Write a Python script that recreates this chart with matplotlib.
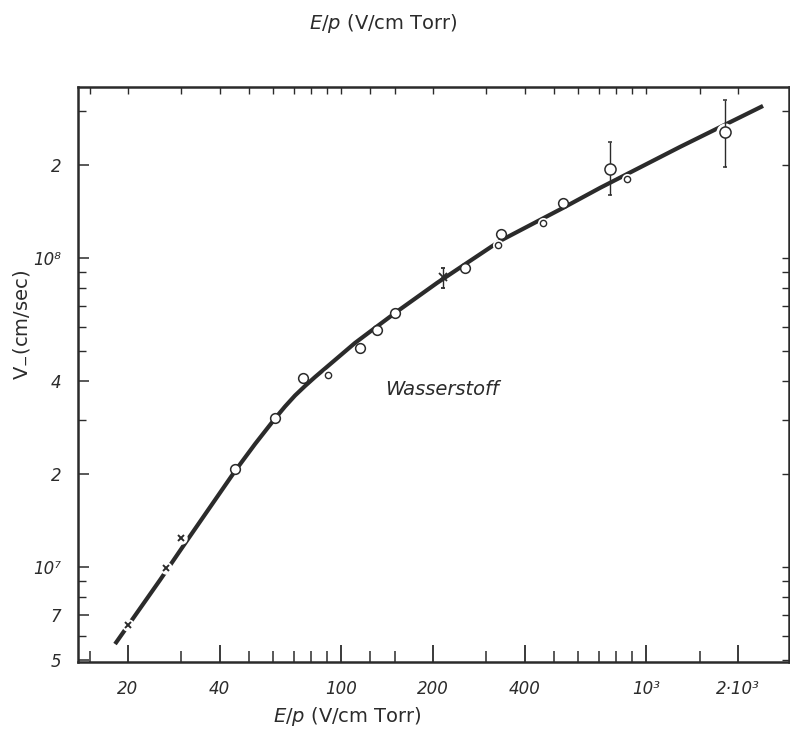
import numpy as np
import matplotlib
matplotlib.use("Agg")
from matplotlib import pyplot as plt
from matplotlib.ticker import FixedLocator, NullFormatter, LogLocator

# drift velocity of negative ions in hydrogen vs. reduced field E/p
curve_ep = [18.17, 25.52, 31.53, 44.97, 52.29, 60.81, 65.57, 70.72, 76.27, 82.27,
            88.71, 111.2, 131.3, 152.8, 206.6, 332.4, 534.9, 707.2, 1293.6, 2420.6]
curve_v = [5.647e6, 9.10e6, 1.235e7, 2.050e7, 2.506e7, 3.031e7, 3.314e7, 3.597e7,
           3.861e7, 4.129e7, 4.399e7, 5.320e7, 6.017e7, 6.727e7, 8.321e7, 1.138e8,
           1.455e8, 1.689e8, 2.292e8, 3.111e8]

# measured points
circ_ep = [45.0, 60.8, 75.3, 115.5, 131.3, 150.5, 255.3, 335.0, 535.0]
circ_v = [2.076e7, 3.035e7, 4.09e7, 5.11e7, 5.86e7, 6.64e7, 9.28e7, 1.196e8, 1.507e8]

small_ep = [90.9, 326.7, 461.0, 865.0]
small_v = [4.19e7, 1.104e8, 1.298e8, 1.806e8]

cross_ep = [20.0, 26.7, 29.9]
cross_v = [6.51e6, 9.95e6, 1.247e7]

# points with error bars
err_ep = [762.6, 1817.0]
err_v = [1.95e8, 2.57e8]
err_lo = [1.60e8, 1.98e8]
err_hi = [2.38e8, 3.25e8]

errx_ep = [216.7]
errx_v = [8.72e7]
errx_lo = [8.01e7]
errx_hi = [9.30e7]

xticks = [20, 40, 100, 200, 400, 1000, 2000]
xticklabels = ["20", "40", "100", "200", "400", "10³", "2·10³"]
xminor = [15, 30, 50, 60, 70, 80, 90, 125, 150, 300, 500, 600, 700, 800, 900, 1500]
yticks = [5e6, 7e6, 1e7, 2e7, 4e7, 1e8, 2e8]
yticklabels = ["5", "7", "10⁷", "2", "4", "10⁸", "2"]

ink = "#2b2b2b"
plt.rcParams["font.family"] = ["DejaVu Sans"]

fig = plt.figure(figsize=(7.9, 7.29), dpi=100)
ax = fig.add_axes([0.0984, 0.0923, 0.9004, 0.7888])
ax.set_xscale("log")
ax.set_yscale("log")
ax.set_xlim(13.71, 2946)
ax.set_ylim(4.95e6, 3.59e8)

ax.plot(curve_ep, curve_v, color=ink, lw=3.0, solid_capstyle="butt",
        solid_joinstyle="round", zorder=2)

# clear the line around the markers, like the hand-drawn original
ax.plot(cross_ep, cross_v, 'o', ms=9, mfc="white", mec="none", zorder=3)
ax.plot(small_ep, small_v, 'o', ms=8, mfc="white", mec="none", zorder=3)
ax.plot(err_ep, err_v, 'o', ms=13, mfc="white", mec="none", zorder=3)

ax.plot(cross_ep, cross_v, 'x', ms=5, mew=1.4, color=ink, zorder=4)
ax.plot(circ_ep, circ_v, 'o', ms=7, mfc="white", mec=ink, mew=1.1, zorder=4)
ax.plot(small_ep, small_v, 'o', ms=4.5, mfc="white", mec=ink, mew=1.0, zorder=4)

yerr = [np.array(err_v) - np.array(err_lo), np.array(err_hi) - np.array(err_v)]
ax.errorbar(err_ep, err_v, yerr=yerr, fmt='o', ms=8, mfc="white", mec=ink,
            mew=1.1, ecolor=ink, elinewidth=1.0, capsize=1.5, zorder=5)
yerr2 = [np.array(errx_v) - np.array(errx_lo), np.array(errx_hi) - np.array(errx_v)]
ax.errorbar(errx_ep, errx_v, yerr=yerr2, fmt='x', ms=6, mew=1.3, color=ink,
            elinewidth=1.0, capsize=1.5, zorder=5)

ax.text(214.6, 3.75e7, "Wasserstoff", fontsize=14, style="italic", color=ink,
        ha="center", va="center")

# bottom axis
ax.xaxis.set_major_locator(FixedLocator(xticks))
ax.xaxis.set_minor_locator(FixedLocator(xminor))
ax.set_xticklabels(xticklabels, fontsize=12, style="italic", color=ink)
ax.xaxis.set_minor_formatter(NullFormatter())
ax.tick_params(axis="x", which="major", direction="in", length=12, width=1.3,
               color=ink, pad=13, top=False)
ax.tick_params(axis="x", which="minor", direction="in", length=8, width=1.1,
               color=ink, top=False)

# left axis
ax.yaxis.set_major_locator(FixedLocator(yticks))
ax.yaxis.set_minor_locator(LogLocator(base=10, subs=np.arange(2, 10)))
ax.set_yticklabels(yticklabels, fontsize=12, style="italic", color=ink)
ax.yaxis.set_minor_formatter(NullFormatter())
ax.tick_params(axis="y", which="major", direction="in", length=8, width=1.1,
               color=ink, pad=12, right=False)
ax.tick_params(axis="y", which="minor", direction="in", length=6, width=1.0,
               color=ink, right=False)

# short ticks on top and right
top = ax.secondary_xaxis("top")
top.xaxis.set_major_locator(FixedLocator(xticks + xminor))
top.xaxis.set_minor_locator(FixedLocator([]))
top.tick_params(direction="in", length=5, width=1.0, color=ink, labeltop=False)
right = ax.secondary_yaxis("right")
right.yaxis.set_major_locator(LogLocator(base=10, subs=np.arange(1, 10)))
right.yaxis.set_minor_locator(FixedLocator([]))
right.tick_params(direction="in", length=5, width=1.0, color=ink, labelright=False)
for sec in (top, right):
    for sp in sec.spines.values():
        sp.set_visible(False)

for sp in ax.spines.values():
    sp.set_linewidth(1.8)
    sp.set_color(ink)

fig.text(0.44, 0.0165, "$\\it{E/p}$ (V/cm Torr)", fontsize=14, color=ink,
         ha="center", va="center")
fig.text(0.485, 0.968, "$\\it{E/p}$ (V/cm Torr)", fontsize=14, color=ink,
         ha="center", va="center")
fig.text(0.028, 0.555, "V$_{-}$(cm/sec)", fontsize=14, color=ink,
         rotation=90, ha="center", va="center")

fig.savefig("out.png", dpi=100, facecolor="white")
